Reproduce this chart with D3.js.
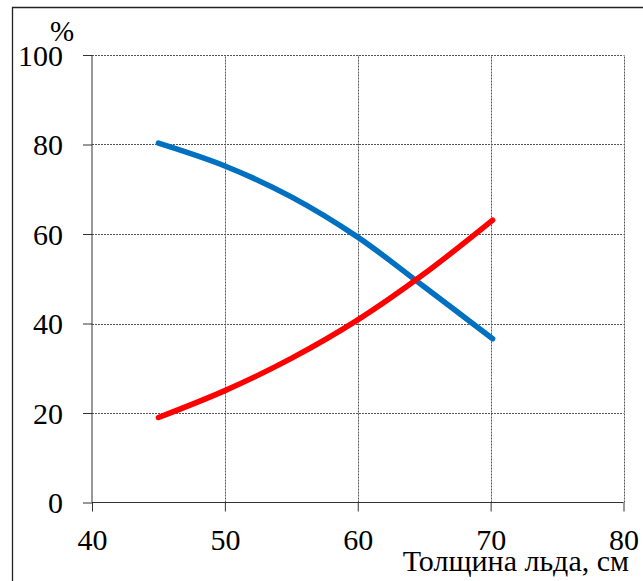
<!DOCTYPE html>
<html>
<head>
<meta charset="utf-8">
<script src="https://cdn.jsdelivr.net/npm/d3@7"></script>
<style>
  html, body { margin: 0; padding: 0; background: #fff; }
  svg { display: block; }
</style>
</head>
<body>
<svg id="chart" width="643" height="581"></svg>
<script>
const thickness = [45, 50, 55, 60, 65, 70.15];
const blueSeries = [80.3, 75.2, 68.3, 59.3, 48.2, 36.6];
const redSeries = [19.0, 25.0, 32.2, 40.8, 51.1, 63.1];
const xTicks = [40, 50, 60, 70, 80];
const yTicks = [0, 20, 40, 60, 80, 100];
const xTitle = "Толщина льда, см";
const yTitle = "%";
const SERIF = '"Liberation Serif", Tinos, "Times New Roman", serif';

const svg = d3.select("#chart");
const x = d3.scaleLinear().domain([40, 80]).range([92, 623.5]);
const y = d3.scaleLinear().domain([0, 100]).range([502.5, 55]);

// outer frame
svg.append("path")
  .attr("d", "M12.5,581 L12.5,7.5 L643,7.5")
  .attr("fill", "none").attr("stroke", "#222").attr("stroke-width", 1.3);

// grid
const grid = svg.append("g");
grid.selectAll("line.h").data(yTicks.filter(d => d > 0)).join("line")
  .attr("x1", x(40)).attr("x2", x(80))
  .attr("y1", d => Math.round(y(d)) + 0.5).attr("y2", d => Math.round(y(d)) + 0.5)
  .attr("stroke", "#555").attr("stroke-width", 1).attr("stroke-dasharray", "2,1");
grid.selectAll("line.v").data(xTicks.filter(d => d > 40)).join("line")
  .attr("x1", d => Math.round(x(d)) + 0.5).attr("x2", d => Math.round(x(d)) + 0.5)
  .attr("y1", y(0)).attr("y2", y(100))
  .attr("stroke", "#555").attr("stroke-width", 1).attr("stroke-dasharray", "2,1");

// axes
const xAxis = d3.axisBottom(x).tickValues(xTicks).tickSize(9).tickFormat(d3.format("d"));
const gx = svg.append("g").attr("transform", `translate(0,${y(0)})`).call(xAxis)
  .attr("font-family", null).attr("font-size", null);
gx.select(".domain").attr("stroke", "#333").attr("d", `M${x(40)},0H${x(80)}`);
gx.selectAll(".tick line").attr("stroke", "#333");
gx.selectAll(".tick text").attr("fill", "#000").attr("font-size", 30)
  .attr("y", 0).attr("dy", null).attr("transform", "translate(0,47.5)");

const yAxis = d3.axisLeft(y).tickValues(yTicks).tickSize(9).tickFormat(d3.format("d"));
const gy = svg.append("g").attr("transform", `translate(${x(40)},0)`).call(yAxis)
  .attr("font-family", null).attr("font-size", null);
gy.select(".domain").attr("stroke", "#333").attr("d", `M0,${y(0)}V${y(100)}`);
gy.selectAll(".tick line").attr("stroke", "#333");
gy.selectAll(".tick text").attr("fill", "#000").attr("font-size", 30)
  .attr("x", -29).attr("dy", "0.34em");

// titles
svg.append("text").attr("x", 629).attr("y", 571).attr("text-anchor", "end")
  .attr("font-size", 30).attr("fill", "#000").text(xTitle);
svg.append("text").attr("x", 50).attr("y", 41)
  .attr("font-size", 29).attr("fill", "#000").text(yTitle);

// serif family, forced inline on every text
svg.selectAll("text").each(function () {
  this.setAttribute("font-family", SERIF);
  this.style.setProperty("font-family", SERIF, "important");
});

// lines
const line = d3.line().x(d => x(d[0])).y(d => y(d[1])).curve(d3.curveCatmullRom.alpha(0.5));
svg.append("path").datum(thickness.map((t, i) => [t, blueSeries[i]]))
  .attr("d", line).attr("fill", "none").attr("stroke", "#0070C0")
  .attr("stroke-width", 5.5).attr("stroke-linecap", "round");
svg.append("path").datum(thickness.map((t, i) => [t, redSeries[i]]))
  .attr("d", line).attr("fill", "none").attr("stroke", "#FF0000")
  .attr("stroke-width", 5.5).attr("stroke-linecap", "round");
</script>
</body>
</html>
